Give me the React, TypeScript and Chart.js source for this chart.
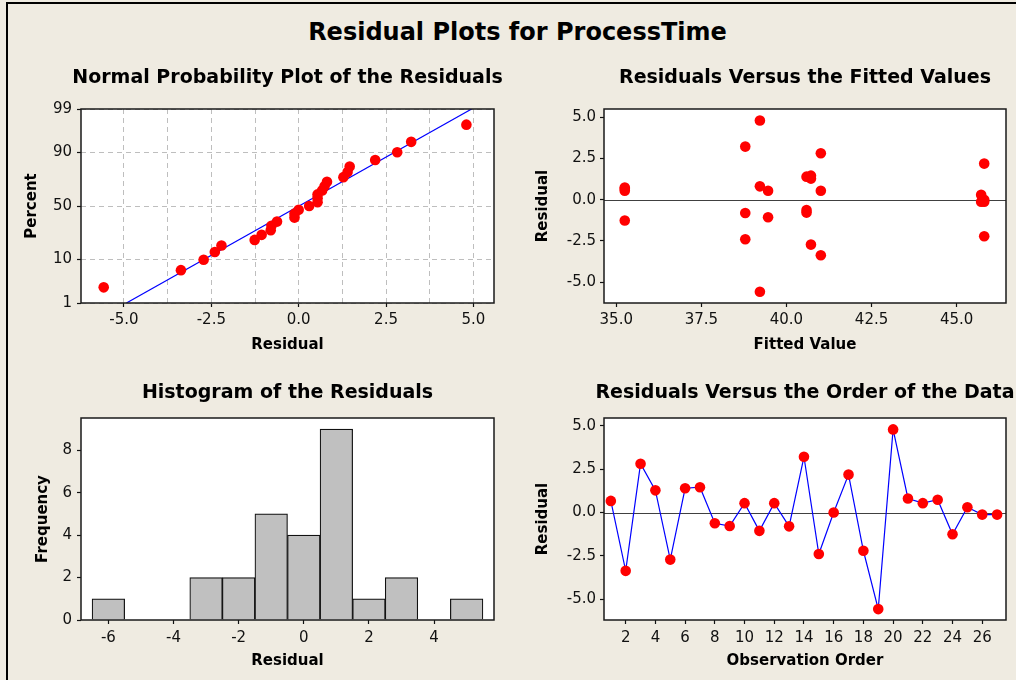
import React, { useEffect, useRef } from 'react';
import { Chart, registerables } from 'chart.js';

Chart.register(...registerables);
Chart.defaults.font.family = '"DejaVu Sans", sans-serif';
Chart.defaults.color = '#111';

// ---------------- data ----------------
const mainTitle = 'Residual Plots for ProcessTime';

const observationOrder = [1, 2, 3, 4, 5, 6, 7, 8, 9, 10, 11, 12, 13, 14, 15, 16, 17, 18, 19, 20, 21, 22, 23, 24, 25, 26, 27];
const residuals = [0.67, -3.37, 2.82, 1.28, -2.72, 1.40, 1.46, -0.62, -0.78, 0.54, -1.06, 0.54, -0.80, 3.22, -2.40, 0.00, 2.19, -2.21, -5.58, 4.80, 0.81, 0.54, 0.74, -1.26, 0.30, -0.12, -0.12];
const fittedValues = [35.25, 41.01, 41.01, 40.72, 40.72, 40.59, 40.72, 40.59, 40.59, 41.01, 39.46, 39.46, 38.79, 38.79, 38.79, 45.81, 45.81, 45.81, 39.22, 39.22, 39.22, 35.25, 35.25, 35.25, 45.72, 45.72, 45.81];

// normal probability plot: percent for each sorted residual
const normalPercents = [2.55, 6.2, 9.85, 13.5, 17.15, 20.8, 24.45, 28.1, 31.75, 35.4, 39.05, 42.7, 46.35, 50.0, 53.65, 57.3, 60.95, 64.6, 68.25, 71.9, 75.55, 79.2, 82.85, 86.5, 90.15, 93.8, 97.45];
const fitLineResidual = [-4.93, 4.95];
const fitLinePercent = [1, 99];

// histogram
const histBinCenters = [-6, -5, -4, -3, -2, -1, 0, 1, 2, 3, 4, 5];
const histCounts = [1, 0, 0, 2, 2, 5, 4, 9, 1, 2, 0, 1];

// ticks
const percentTicks = [1, 10, 50, 90, 99];
const normalXTicks = [-5, -3.75, -2.5, -1.25, 0, 1.25, 2.5, 3.75, 5];
const normalXLabels = ['-5.0', '', '-2.5', '', '0.0', '', '2.5', '', '5.0'];
const fittedXTicks = [35, 37.5, 40, 42.5, 45];
const fittedXLabels = ['35.0', '37.5', '40.0', '42.5', '45.0'];
const residYTicks = [-5, -2.5, 0, 2.5, 5];
const residYLabels = ['-5.0', '-2.5', '0.0', '2.5', '5.0'];
const histXTicks = [-6, -4, -2, 0, 2, 4];
const histXLabels = ['-6', '-4', '-2', '0', '2', '4'];
const histYTicks = [0, 2, 4, 6, 8];
const histYLabels = ['0', '2', '4', '6', '8'];
const orderXTicks = [2, 4, 6, 8, 10, 12, 14, 16, 18, 20, 22, 24, 26];
const orderXLabels = ['2', '4', '6', '8', '10', '12', '14', '16', '18', '20', '22', '24', '26'];

// ---------------- helpers ----------------
// inverse standard normal CDF (Acklam) - used as the probability-scale transform
function probit(p: number): number {
  const a = [-39.69683028665376, 220.9460984245205, -275.9285104469687, 138.357751867269, -30.66479806614716, 2.506628277459239];
  const b = [-54.47609879822406, 161.5858368580409, -155.6989798598866, 66.80131188771972, -13.28068155288572];
  const c = [-0.007784894002430293, -0.3223964580411365, -2.400758277161838, -2.549732539343734, 4.374664141464968, 2.938163982698783];
  const d = [0.007784695709041462, 0.3224671290700398, 2.445134137142996, 3.754408661907416];
  const pl = 0.02425;
  if (p < pl) {
    const q = Math.sqrt(-2 * Math.log(p));
    return (((((c[0] * q + c[1]) * q + c[2]) * q + c[3]) * q + c[4]) * q + c[5]) / ((((d[0] * q + d[1]) * q + d[2]) * q + d[3]) * q + 1);
  }
  if (p <= 1 - pl) {
    const q = p - 0.5;
    const r = q * q;
    return ((((((a[0] * r + a[1]) * r + a[2]) * r + a[3]) * r + a[4]) * r + a[5]) * q) / (((((b[0] * r + b[1]) * r + b[2]) * r + b[3]) * r + b[4]) * r + 1);
  }
  const q = Math.sqrt(-2 * Math.log(1 - p));
  return -(((((c[0] * q + c[1]) * q + c[2]) * q + c[3]) * q + c[4]) * q + c[5]) / ((((d[0] * q + d[1]) * q + d[2]) * q + d[3]) * q + 1);
}

const FONT = '"DejaVu Sans", sans-serif';
const RED = '#FF0000';

const panelPlugin = {
  id: 'panel',
  beforeDraw(chart: any, _args: any, opts: any) {
    const { ctx, chartArea } = chart;
    ctx.save();
    ctx.fillStyle = '#FFFFFF';
    ctx.fillRect(chartArea.left, chartArea.top, chartArea.right - chartArea.left, chartArea.bottom - chartArea.top);
    ctx.restore();
  },
  beforeDatasetsDraw(chart: any, _args: any, opts: any) {
    if (!opts.zeroLine) return;
    const { ctx, chartArea } = chart;
    const y = Math.round(chart.scales.y.getPixelForValue(0)) + 0.5;
    ctx.save();
    ctx.strokeStyle = '#404040';
    ctx.lineWidth = 1;
    ctx.beginPath();
    ctx.moveTo(chartArea.left, y);
    ctx.lineTo(chartArea.right, y);
    ctx.stroke();
    ctx.restore();
  },
  afterDraw(chart: any, _args: any, opts: any) {
    const { ctx, chartArea } = chart;
    ctx.save();
    ctx.strokeStyle = '#1a1a1a';
    ctx.lineWidth = 1.5;
    ctx.strokeRect(chartArea.left, chartArea.top, chartArea.right - chartArea.left, chartArea.bottom - chartArea.top);
    ctx.font = `bold 19px ${FONT}`;
    ctx.fillStyle = '#000';
    ctx.textAlign = 'center';
    ctx.textBaseline = 'middle';
    ctx.fillText(opts.text, (chartArea.left + chartArea.right) / 2, opts.titleY);
    ctx.restore();
  },
};

interface AxisSpec {
  min: number;
  max: number;
  values: number[];
  labels: string[];
  title: string;
  size: number;
  titlePad: number;
  tickPad: number;
  grid?: boolean;
}

function axis(s: AxisSpec): any {
  return {
    type: 'linear',
    min: s.min,
    max: s.max,
    offset: false,
    afterBuildTicks: (scale: any) => {
      scale.ticks = s.values.map((v) => ({ value: v }));
    },
    afterFit: (scale: any) => {
      if (scale.isHorizontal()) scale.height = s.size;
      else scale.width = s.size;
    },
    ticks: {
      autoSkip: false,
      maxRotation: 0,
      minRotation: 0,
      padding: s.tickPad,
      color: '#111',
      font: { size: 15, family: FONT },
      callback: (_v: any, i: number) => s.labels[i],
    },
    grid: {
      offset: false,
      drawOnChartArea: !!s.grid,
      color: '#BEBEBE',
      lineWidth: 1,
      drawTicks: true,
      tickLength: 4,
      tickWidth: 1.2,
      tickColor: (ctx: any) => (s.labels[ctx.index] ? '#111' : 'rgba(0,0,0,0)'),
    },
    border: { display: false, dash: s.grid ? [5, 4] : [] },
    title: {
      display: true,
      text: s.title,
      color: '#000',
      font: { size: 15, weight: 'bold', family: FONT },
      padding: { top: s.titlePad, bottom: s.titlePad },
    },
  };
}

function baseOptions(text: string, titleY: number, padding: any, x: any, y: any, zeroLine = false): any {
  return {
    responsive: false,
    animation: false,
    maintainAspectRatio: false,
    layout: { padding },
    events: [],
    plugins: {
      legend: { display: false },
      tooltip: { enabled: false },
      title: { display: false },
      panel: { text, titleY, zeroLine },
    },
    scales: { x, y },
  };
}

const W = 315;

function normalConfig(): any {
  const sorted = [...residuals].sort((a, b) => a - b);
  return {
    type: 'scatter',
    data: {
      datasets: [
        {
          data: sorted.map((r, i) => ({ x: r, y: probit(normalPercents[i] / 100) })),
          pointRadius: 5.3,
          pointBackgroundColor: RED,
          pointBorderWidth: 0,
          showLine: false,
        },
        {
          data: fitLineResidual.map((r, i) => ({ x: r, y: probit(fitLinePercent[i] / 100) })),
          showLine: true,
          borderColor: '#0000FF',
          borderWidth: 1.2,
          pointRadius: 0,
          tension: 0,
        },
      ],
    },
    options: baseOptions(
      'Normal Probability Plot of the Residuals',
      28,
      { top: 59, left: 0, right: 16, bottom: 0 },
      axis({ min: -6.23, max: 5.59, values: normalXTicks, labels: normalXLabels, title: 'Residual', size: 62, titlePad: 11, tickPad: 4, grid: true }),
      axis({
        min: probit(0.01),
        max: probit(0.99),
        values: percentTicks.map((p) => probit(p / 100)),
        labels: percentTicks.map(String),
        title: 'Percent',
        size: 81,
        titlePad: 23,
        tickPad: 5,
        grid: true,
      })
    ),
    plugins: [panelPlugin],
  };
}

function fittedConfig(): any {
  return {
    type: 'scatter',
    data: {
      datasets: [
        {
          data: fittedValues.map((f, i) => ({ x: f, y: residuals[i] })),
          pointRadius: 5.3,
          pointBackgroundColor: RED,
          pointBorderWidth: 0,
        },
      ],
    },
    options: baseOptions(
      'Residuals Versus the Fitted Values',
      28,
      { top: 59, left: 0, right: 10, bottom: 0 },
      axis({ min: 34.64, max: 46.45, values: fittedXTicks, labels: fittedXLabels, title: 'Fitted Value', size: 62, titlePad: 11, tickPad: 4 }),
      axis({ min: -6.26, max: 5.5, values: residYTicks, labels: residYLabels, title: 'Residual', size: 94, titlePad: 24, tickPad: 4 }),
      true
    ),
    plugins: [panelPlugin],
  };
}

function histConfig(): any {
  return {
    type: 'bar',
    data: {
      datasets: [
        {
          data: histBinCenters.map((c, i) => ({ x: c, y: histCounts[i] })),
          backgroundColor: '#C0C0C0',
          borderColor: '#111',
          borderWidth: 1.2,
          barPercentage: 1,
          categoryPercentage: 1,
          grouped: false,
        },
      ],
    },
    options: baseOptions(
      'Histogram of the Residuals',
      28,
      { top: 53, left: 0, right: 16, bottom: 0 },
      axis({ min: -6.84, max: 5.84, values: histXTicks, labels: histXLabels, title: 'Residual', size: 60, titlePad: 10, tickPad: 5 }),
      axis({ min: 0, max: 9.52, values: histYTicks, labels: histYLabels, title: 'Frequency', size: 81, titlePad: 34, tickPad: 5 })
    ),
    plugins: [panelPlugin],
  };
}

function orderConfig(): any {
  return {
    type: 'line',
    data: {
      datasets: [
        {
          data: observationOrder.map((o, i) => ({ x: o, y: residuals[i] })),
          borderColor: '#0000FF',
          borderWidth: 1.2,
          tension: 0,
          pointRadius: 5.3,
          pointBackgroundColor: RED,
          pointBorderWidth: 0,
        },
      ],
    },
    options: baseOptions(
      'Residuals Versus the Order of the Data',
      28,
      { top: 53, left: 0, right: 10, bottom: 0 },
      axis({ min: 0.54, max: 27.6, values: orderXTicks, labels: orderXLabels, title: 'Observation Order', size: 60, titlePad: 10, tickPad: 5 }),
      axis({ min: -6.21, max: 5.46, values: residYTicks, labels: residYLabels, title: 'Residual', size: 94, titlePad: 24, tickPad: 4 }),
      true
    ),
    plugins: [panelPlugin],
  };
}

function ChartCanvas(props: { make: () => any; left: number; top: number; width: number; height: number }) {
  const ref = useRef<HTMLCanvasElement>(null);
  useEffect(() => {
    const chart = new Chart(ref.current as HTMLCanvasElement, props.make());
    return () => chart.destroy();
  }, []);
  return (
    <canvas
      ref={ref}
      width={props.width}
      height={props.height}
      style={{ position: 'absolute', left: props.left, top: props.top, width: props.width, height: props.height, display: 'block' }}
    />
  );
}

export default function App() {
  return (
    <div
      style={{
        position: 'fixed',
        left: 0,
        top: 0,
        width: 1016,
        height: 680,
        overflow: 'hidden',
        background: '#EFEBE1',
      }}
    >
      <div
        style={{
          position: 'absolute',
          left: 6,
          top: 2,
          width: 1100,
          height: 800,
          borderLeft: '2px solid #000',
          borderTop: '2px solid #000',
        }}
      />
      <div
        style={{
          position: 'absolute',
          left: 0,
          top: 18,
          width: 1035,
          textAlign: 'center',
          font: `bold 24px ${FONT}`,
          lineHeight: '28px',
          color: '#000',
          whiteSpace: 'nowrap',
        }}
      >
        {mainTitle}
      </div>
      <ChartCanvas make={normalConfig} left={0} top={50} width={510} height={W} />
      <ChartCanvas make={fittedConfig} left={510} top={50} width={506} height={W} />
      <ChartCanvas make={histConfig} left={0} top={365} width={510} height={W} />
      <ChartCanvas make={orderConfig} left={510} top={365} width={506} height={W} />
    </div>
  );
}
